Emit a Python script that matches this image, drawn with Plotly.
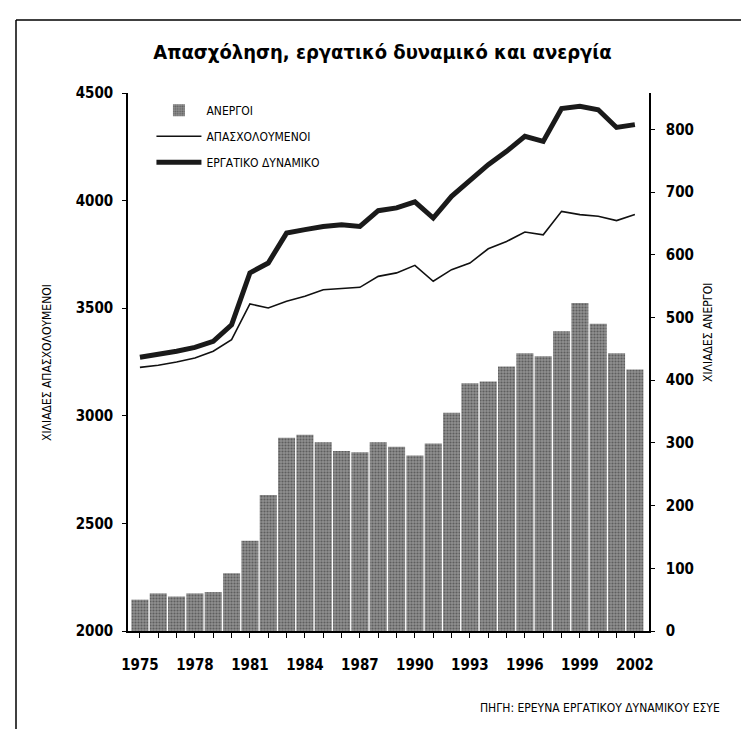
import plotly.graph_objects as go

years = list(range(1975, 2003))
unemployed = [50, 60, 55, 60, 62, 92, 144, 217, 308, 313, 301, 287, 285, 301, 294, 280,
              299, 348, 395, 398, 422, 443, 438, 478, 523, 490, 443, 417]
employed = [3225, 3235, 3250, 3269, 3300, 3354, 3520, 3501, 3532, 3555, 3586, 3591, 3597, 3648,
            3664, 3699, 3625, 3679, 3710, 3776, 3810, 3854, 3841, 3950, 3935, 3927, 3907, 3935]
labour_force = [3272, 3284, 3300, 3318, 3346, 3423, 3664, 3710, 3849, 3865, 3880, 3888, 3880, 3953,
                3966, 3994, 3919, 4020, 4097, 4167, 4229, 4299, 4275, 4428, 4438, 4422, 4340, 4353]
label_years = [1975, 1978, 1981, 1984, 1987, 1990, 1993, 1996, 1999, 2002]

title = "Απασχόληση, εργατικό δυναμικό και ανεργία"
name_unemp = "ΑΝΕΡΓΟΙ"
name_emp = "ΑΠΑΣΧΟΛΟΥΜΕΝΟΙ"
name_lf = "ΕΡΓΑΤΙΚΟ ΔΥΝΑΜΙΚΟ"
left_title = "ΧΙΛΙΑΔΕΣ ΑΠΑΣΧΟΛΟΥΜΕΝΟΙ"
right_title = "ΧΙΛΙΑΔΕΣ ΑΝΕΡΓΟΙ"
source = "ΠΗΓΗ: ΕΡΕΥΝΑ ΕΡΓΑΤΙΚΟΥ ΔΥΝΑΜΙΚΟΥ ΕΣΥΕ"

FONT = "Liberation Sans Narrow, DejaVu Sans Condensed, Arial Narrow, sans-serif"

fig = go.Figure()
fig.add_trace(go.Bar(
    x=years, y=unemployed, name=name_unemp, yaxis="y2", legendgroup="a",
    marker=dict(color="#7c7c7c", line=dict(width=0),
                pattern=dict(shape=".", fgcolor="#2e2e2e", bgcolor="#8f8f8f", size=3, solidity=0.4)),
))
fig.add_trace(go.Scatter(
    x=years, y=employed, name=name_emp, mode="lines", legendgroup="b",
    line=dict(color="#111111", width=1.6),
))
fig.add_trace(go.Scatter(
    x=years, y=labour_force, name=name_lf, mode="lines", legendgroup="c",
    line=dict(color="#1a1a1a", width=5),
))

tickvals_x = years
ticktext_x = [str(y) if y in label_years else "" for y in years]

fig.update_layout(
    width=749, height=729,
    margin=dict(l=120, r=108, t=85, b=106),
    paper_bgcolor="white", plot_bgcolor="white",
    font=dict(family=FONT, color="black"),
    title=dict(text=title, x=0.5, xanchor="center", y=1 - 44 / 729, yanchor="middle",
               font=dict(size=20, family=FONT, weight="bold")),
    bargap=0.07,
    showlegend=True,
    legend=dict(x=0.045, y=0.995, xanchor="left", yanchor="top", bgcolor="rgba(0,0,0,0)",
                font=dict(size=12, family=FONT), itemwidth=45, tracegroupgap=7,
                traceorder="grouped"),
    xaxis=dict(range=[1974.35, 2002.77], tickvals=tickvals_x, ticktext=ticktext_x,
               ticks="outside", ticklen=5, tickwidth=1, tickcolor="black",
               showline=True, linecolor="black", linewidth=2, showgrid=False, zeroline=False,
               tickfont=dict(size=15, family=FONT, weight="bold"), ticklabelstandoff=14),
    yaxis=dict(range=[2000, 4500], tickvals=[2000, 2500, 3000, 3500, 4000, 4500],
               ticks="outside", ticklen=4, tickcolor="black",
               showline=True, linecolor="black", linewidth=1.5, showgrid=False, zeroline=False,
               tickfont=dict(size=15, family=FONT, weight="bold"), ticklabelstandoff=6),
    yaxis2=dict(range=[0, 858], tickvals=[0, 100, 200, 300, 400, 500, 600, 700, 800],
                overlaying="y", side="right", anchor="x",
                ticks="outside", ticklen=4, tickcolor="black",
                showline=True, linecolor="black", linewidth=1.5, showgrid=False, zeroline=False,
                tickfont=dict(size=15, family=FONT, weight="bold"), ticklabelstandoff=8),
)

# axis titles and source
fig.add_annotation(text=left_title, xref="paper", yref="paper",
                   x=(39 - 120) / 521, y=(623 - 355) / 538, textangle=-90, showarrow=False,
                   xanchor="center", yanchor="middle", font=dict(size=12, family=FONT))
fig.add_annotation(text=right_title, xref="paper", yref="paper",
                   x=(700 - 120) / 521, y=(623 - 325) / 538, textangle=-90, showarrow=False,
                   xanchor="center", yanchor="middle", font=dict(size=12, family=FONT))
fig.add_annotation(text=source, xref="paper", yref="paper",
                   x=(714 - 120) / 521, y=(623 - 700) / 538, showarrow=False,
                   xanchor="right", yanchor="middle", font=dict(size=12, family=FONT))

# frame
def px_x(px):
    return (px - 120) / 521

def px_y(py):
    return (623 - py) / 538

frame = dict(xref="paper", yref="paper", line=dict(color="black", width=1.5))
fig.add_shape(type="line", x0=px_x(8), x1=px_x(749), y0=px_y(12), y1=px_y(12), **frame)
fig.add_shape(type="line", x0=px_x(8), x1=px_x(8), y0=px_y(12), y1=px_y(729), **frame)
fig.add_shape(type="line", x0=px_x(745), x1=px_x(745), y0=px_y(640), y1=px_y(729), **frame)

fig.write_html("out.html")
